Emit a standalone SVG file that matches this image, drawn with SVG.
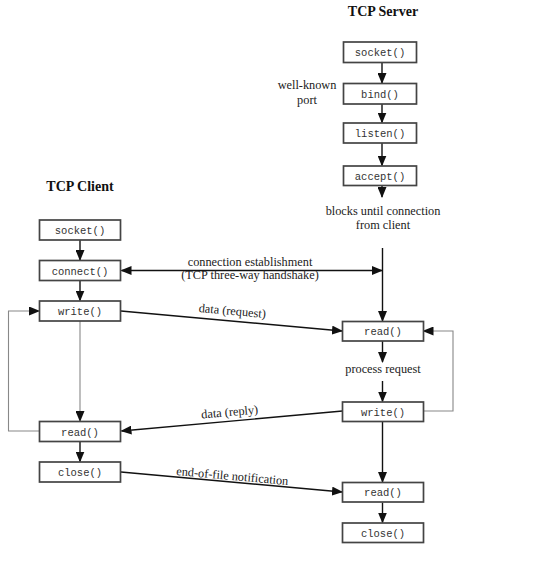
<svg xmlns="http://www.w3.org/2000/svg" width="540" height="561" viewBox="0 0 540 561">
<defs>
<marker id="ah" markerUnits="userSpaceOnUse" markerWidth="11" markerHeight="9" refX="10" refY="4.5" orient="auto-start-reverse" viewBox="0 0 11 9">
<path d="M0,0 L11,4.5 L0,9 z" fill="#111"/>
</marker>
<style>
.box{fill:#fff;stroke:#444;stroke-width:1.7}
.fn{font-family:"Liberation Mono",monospace;font-size:10.5px;fill:#333;text-anchor:middle}
.lbl{font-family:"Liberation Serif",serif;font-size:12.3px;fill:#222;text-anchor:middle}
.title{font-family:"Liberation Serif",serif;font-size:14px;font-weight:bold;fill:#111;text-anchor:middle}
.ln{stroke:#111;stroke-width:1.4;fill:none}
.gl{stroke:#888;stroke-width:1.1;fill:none}
</style>
</defs>
<rect width="540" height="561" fill="#fff"/>

<text class="title" x="383" y="16">TCP Server</text>
<text class="title" x="80" y="191">TCP Client</text>

<g id="connectors">
<line class="ln" x1="382" y1="63" x2="382" y2="83" marker-end="url(#ah)"/>
<line class="ln" x1="382" y1="104" x2="382" y2="122.5" marker-end="url(#ah)"/>
<line class="ln" x1="382" y1="143" x2="382" y2="165.5" marker-end="url(#ah)"/>
<line class="ln" x1="382" y1="185" x2="382" y2="197" marker-end="url(#ah)"/>
<line class="ln" x1="382.5" y1="248" x2="382.5" y2="321" marker-end="url(#ah)"/>
<line class="ln" x1="382.5" y1="341" x2="382.5" y2="362" marker-end="url(#ah)"/>
<line class="ln" x1="382.5" y1="381" x2="382.5" y2="401.5" marker-end="url(#ah)"/>
<line class="ln" x1="382.5" y1="422" x2="382.5" y2="482" marker-end="url(#ah)"/>
<line class="ln" x1="382.5" y1="502.5" x2="382.5" y2="522.5" marker-end="url(#ah)"/>
<polyline class="gl" points="423,411 453,411 453,331 423.5,331" marker-end="url(#ah)"/>

<line class="ln" x1="80" y1="240" x2="80" y2="260" marker-end="url(#ah)"/>
<line class="ln" x1="80" y1="280.5" x2="80" y2="300.5" marker-end="url(#ah)"/>
<line class="gl" x1="80" y1="321" x2="80" y2="421" marker-end="url(#ah)"/>
<line class="ln" x1="80" y1="442" x2="80" y2="461.5" marker-end="url(#ah)"/>
<polyline class="gl" points="39,431 8.5,431 8.5,311 39,311" marker-end="url(#ah)"/>

<line class="ln" x1="121.5" y1="270.5" x2="382" y2="270.5" marker-start="url(#ah)" marker-end="url(#ah)"/>
<line class="ln" x1="121" y1="311" x2="342" y2="331" marker-end="url(#ah)"/>
<line class="ln" x1="342.5" y1="411" x2="121.5" y2="431" marker-end="url(#ah)"/>
<line class="ln" x1="121" y1="472" x2="342" y2="492" marker-end="url(#ah)"/>
</g>

<g id="labels">
<text class="lbl" x="307" y="89">well-known</text>
<text class="lbl" x="307" y="103.5">port</text>
<text class="lbl" x="383" y="215">blocks until connection</text>
<text class="lbl" x="383" y="229">from client</text>
<text class="lbl" x="250" y="266">connection establishment</text>
<text class="lbl" x="250" y="279">(TCP three-way handshake)</text>
<text class="lbl" x="232" y="315" transform="rotate(5.1 232 315)">data (request)</text>
<text class="lbl" x="383" y="373">process request</text>
<text class="lbl" x="230" y="416" transform="rotate(-5.1 230 416)">data (reply)</text>
<text class="lbl" x="232" y="480" transform="rotate(5.1 232 480)">end-of-file notification</text>
</g>

<g id="s_socket"><rect class="box" x="343.5" y="42" width="73" height="20.5"/><text class="fn" x="380" y="56">socket()</text></g>
<g id="s_bind"><rect class="box" x="343.5" y="83.5" width="73" height="20.5"/><text class="fn" x="380" y="97.5">bind()</text></g>
<g id="s_listen"><rect class="box" x="343.5" y="123" width="73" height="20"/><text class="fn" x="380" y="137">listen()</text></g>
<g id="s_accept"><rect class="box" x="343.5" y="166" width="73" height="19.5"/><text class="fn" x="380" y="179.5">accept()</text></g>
<g id="s_read1"><rect class="box" x="342.5" y="321.5" width="81" height="19.5"/><text class="fn" x="383" y="335">read()</text></g>
<g id="s_write"><rect class="box" x="342.5" y="402" width="81" height="19.5"/><text class="fn" x="383" y="415.5">write()</text></g>
<g id="s_read2"><rect class="box" x="342.5" y="482.5" width="81" height="19.5"/><text class="fn" x="383" y="496">read()</text></g>
<g id="s_close"><rect class="box" x="342.5" y="523" width="81" height="19.5"/><text class="fn" x="383" y="536.5">close()</text></g>

<g id="c_socket"><rect class="box" x="39.5" y="220" width="81" height="20"/><text class="fn" x="80" y="234">socket()</text></g>
<g id="c_connect"><rect class="box" x="39.5" y="260.5" width="81" height="20"/><text class="fn" x="80" y="274.5">connect()</text></g>
<g id="c_write"><rect class="box" x="39.5" y="301" width="81" height="20"/><text class="fn" x="80" y="315">write()</text></g>
<g id="c_read"><rect class="box" x="39.5" y="421.5" width="81" height="20"/><text class="fn" x="80" y="435.5">read()</text></g>
<g id="c_close"><rect class="box" x="39.5" y="462" width="81" height="20"/><text class="fn" x="80" y="476">close()</text></g>
</svg>
